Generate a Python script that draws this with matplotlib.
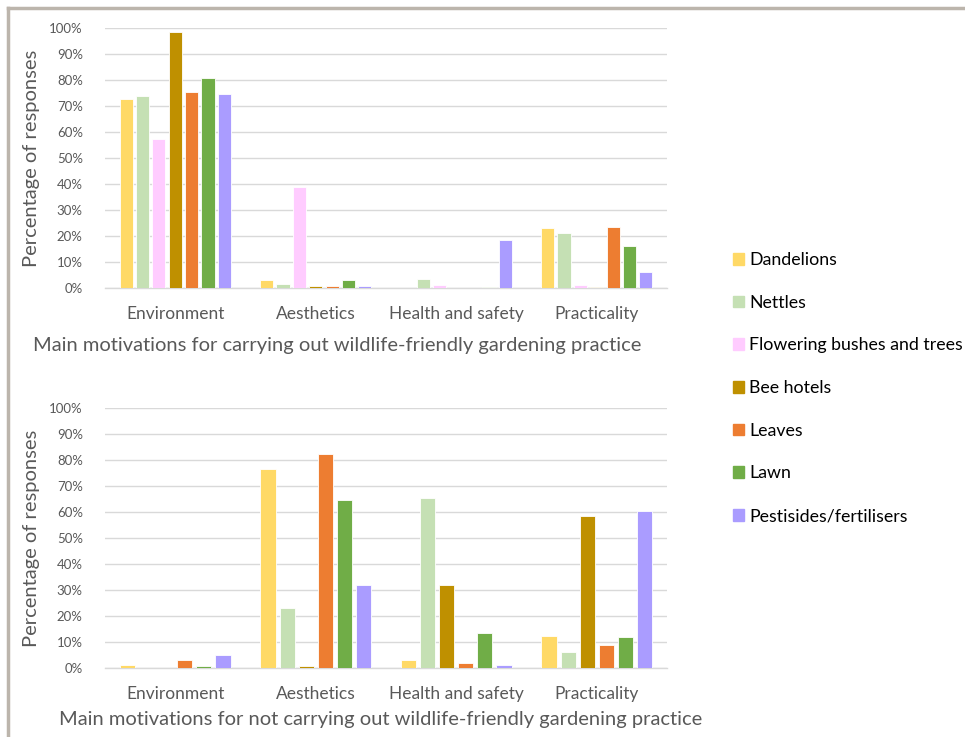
import matplotlib
matplotlib.use('Agg')
import matplotlib.pyplot as plt
import numpy as np
from matplotlib.lines import Line2D

plt.rcParams['font.family'] = ['Lato', 'DejaVu Sans']

categories = ['Environment', 'Aesthetics', 'Health and safety', 'Practicality']

# reasons for carrying out each practice (% of responses)
do_series = ['Dandelions', 'Nettles', 'Flowering bushes and trees', 'Bee hotels',
             'Leaves', 'Lawn', 'Pestisides/fertilisers']
do_dandelions = [72.8, 3.0, 0.0, 23.2]
do_nettles = [74.0, 1.4, 3.3, 21.0]
do_flowering = [57.2, 38.7, 1.1, 1.0]
do_bee_hotels = [98.4, 0.7, 0.0, 0.3]
do_leaves = [75.4, 0.7, 0.0, 23.5]
do_lawn = [80.7, 3.0, 0.3, 16.3]
do_pesticides = [74.6, 0.7, 18.4, 6.3]

# reasons for not carrying out each practice (% of responses)
dont_series = ['Dandelions', 'Nettles', 'Bee hotels', 'Leaves', 'Lawn', 'Pestisides/fertilisers']
dont_dandelions = [1.3, 76.5, 3.0, 12.4]
dont_nettles = [0.0, 23.0, 65.3, 6.2]
dont_bee_hotels = [0.0, 0.9, 32.1, 58.5]
dont_leaves = [3.0, 82.2, 1.8, 8.7]
dont_lawn = [0.6, 64.6, 13.4, 12.0]
dont_pesticides = [5.1, 32.0, 1.1, 60.2]

colors = {
    'Dandelions': '#FFD966',
    'Nettles': '#C5E0B4',
    'Flowering bushes and trees': '#FFCCFF',
    'Bee hotels': '#BF9000',
    'Leaves': '#ED7D31',
    'Lawn': '#70AD47',
    'Pestisides/fertilisers': '#AA9CFF',
}

top_values = [do_dandelions, do_nettles, do_flowering, do_bee_hotels,
              do_leaves, do_lawn, do_pesticides]
bottom_values = [dont_dandelions, dont_nettles, dont_bee_hotels,
                 dont_leaves, dont_lawn, dont_pesticides]

W, H = 965, 737
fig = plt.figure(figsize=(W / 100, H / 100), dpi=100)

grey = '#595959'


def draw_panel(ax, names, values, slot, width, xlabel, xlab_pos):
    x = np.arange(len(categories))
    n = len(names)
    for i, (name, vals) in enumerate(zip(names, values)):
        offs = (i - (n - 1) / 2) * slot
        ax.bar(x + offs, vals, width=width, color=colors[name],
               edgecolor='white', linewidth=0.6, zorder=3)
    ax.set_xlim(-0.5, len(categories) - 0.5)
    ax.set_ylim(0, 100)
    ax.set_yticks(np.arange(0, 101, 10))
    ax.set_yticklabels([f'{v}%' for v in range(0, 101, 10)], color=grey, fontsize=9.5)
    ax.set_xticks(x)
    ax.set_xticklabels(categories, color=grey, fontsize=12.5)
    ax.tick_params(length=0, axis='y', pad=16)
    ax.tick_params(length=0, axis='x', pad=13)
    ax.grid(axis='y', color='#D9D9D9', linewidth=1, zorder=0)
    for s in ['top', 'right', 'left']:
        ax.spines[s].set_visible(False)
    ax.spines['bottom'].set_color('#D9D9D9')
    ax.spines['bottom'].set_linewidth(1)
    ax.set_xlabel(xlabel, color=grey, fontsize=14.5)
    ax.xaxis.set_label_coords(*xlab_pos)
    ax.set_ylabel('Percentage of responses', color=grey, fontsize=14.5)
    ax.yaxis.set_label_coords(-0.116, 0.5)


ax1 = fig.add_axes([105 / W, (H - 288) / H, 562 / W, 260 / H])
draw_panel(ax1, do_series, top_values, 0.1164, 0.094,
           'Main motivations for carrying out wildlife-friendly gardening practice',
           (0.4125, -0.19))

ax2 = fig.add_axes([105 / W, (H - 668) / H, 562 / W, 260 / H])
draw_panel(ax2, dont_series, bottom_values, 0.1357, 0.108,
           'Main motivations for not carrying out wildlife-friendly gardening practice',
           (0.49, -0.165))

# shared legend on the right
handles = [plt.Rectangle((0, 0), 1, 1, color=colors[n]) for n in do_series]
fig.legend(handles, do_series, loc='upper left',
           bbox_to_anchor=(726 / W, (H - 245) / H), frameon=False,
           fontsize=12.8, handlelength=0.62, handleheight=0.62,
           handletextpad=0.3, labelspacing=1.5, borderaxespad=0)

# outer frame
fig.add_artist(Line2D([7.5 / W, 1], [(H - 8) / H, (H - 8) / H],
                      color='#BCB5AC', linewidth=2.5, transform=fig.transFigure))
fig.add_artist(Line2D([7.5 / W, 7.5 / W], [0, (H - 8) / H],
                      color='#BCB5AC', linewidth=2.5, transform=fig.transFigure))

fig.savefig('out.png', dpi=100, facecolor='white')
